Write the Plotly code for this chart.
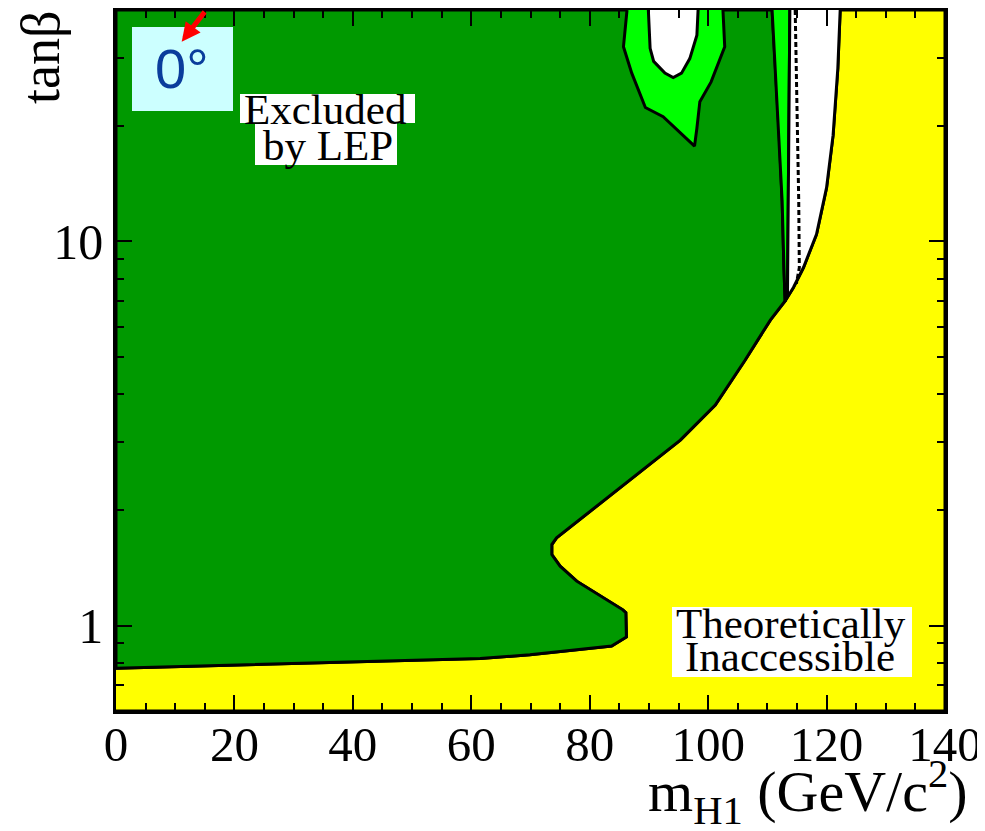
import math
import plotly.graph_objects as go

# ---------------- data ----------------
X_MIN, X_MAX = 0, 140
Y_MIN, Y_MAX = 0.6, 40

# theoretical boundary (green / yellow), low mass -> junction
bound_x = [0.0, 61.5, 69.9, 83.7, 86.2, 86.1, 85.6, 77.8, 75.0, 73.6, 73.6, 74.4, 95.3, 101.2, 106.2, 110.5, 113.0]
bound_y = [0.775, 0.822, 0.840, 0.886, 0.935, 1.082, 1.10, 1.306, 1.429, 1.532, 1.626, 1.693, 3.04, 3.75, 4.90, 6.24, 7.0]

# theoretical boundary above the junction (white / yellow)
upper_x = [113.0, 114.4, 116.1, 118.3, 120.0, 121.1, 121.9, 122.3]
upper_y = [7.0, 7.59, 8.55, 10.44, 13.8, 18.9, 28.2, 40.0]

# edge of the dark-green (excluded) region near 111-113 GeV, top -> bottom
dark_edge_x = [110.8, 111.3, 112.0, 112.5, 112.8, 113.0]
dark_edge_y = [40.0, 28.2, 18.9, 12.7, 8.55, 7.0]

# edge of the light-green strip, top -> bottom
light_edge_x = [113.8, 113.7, 113.5, 113.4, 113.0]
light_edge_y = [40.0, 28.2, 12.7, 7.3, 7.0]

# dashed (expected) line
dash_x = [114.7, 115.0, 115.3, 115.4, 114.9]
dash_y = [40.0, 23.1, 12.7, 8.55, 7.76]

# island near 90-100 GeV: light green outer contour and white inner contour
island_out_x = [86.3, 85.7, 87.1, 88.8, 89.4, 92.4, 94.7, 97.7, 98.1, 98.6, 100.5, 102.8, 102.5]
island_out_y = [40.0, 32.1, 27.4, 23.6, 22.3, 21.1, 19.5, 17.7, 19.7, 23.1, 26.0, 32.1, 40.0]
island_in_x = [89.9, 90.2, 90.8, 92.7, 94.1, 95.5, 96.9, 98.1, 98.3]
island_in_y = [40.0, 31.8, 29.4, 27.4, 26.7, 27.4, 29.9, 34.4, 40.0]

x_major = [0, 20, 40, 60, 80, 100, 120, 140]
y_major = [1, 10]
y_major_text = ["1", "10"]
y_minor = [0.6, 0.7, 0.8, 0.9, 2, 3, 4, 5, 6, 7, 8, 9, 20, 30, 40]

# ---------------- colours ----------------
DARK_GREEN = "#009900"
LIGHT_GREEN = "#00ff00"
YELLOW = "#ffff00"
LINE_W = 3

fig = go.Figure()

# yellow: theoretically inaccessible
yel_x = bound_x + upper_x[1:] + [X_MAX, X_MAX, X_MIN]
yel_y = bound_y + upper_y[1:] + [Y_MAX, Y_MIN, Y_MIN]
fig.add_trace(go.Scatter(x=yel_x, y=yel_y, fill="toself", fillcolor=YELLOW, mode="lines",
                         line=dict(color="black", width=LINE_W), hoverinfo="skip"))

# dark green: excluded
grn_x = [X_MIN] + bound_x + dark_edge_x[::-1] + [X_MIN]
grn_y = [Y_MAX] + bound_y + dark_edge_y[::-1] + [Y_MAX]
fig.add_trace(go.Scatter(x=grn_x, y=grn_y, fill="toself", fillcolor=DARK_GREEN, mode="lines",
                         line=dict(color="black", width=LINE_W), hoverinfo="skip"))

# light green strip
lg_x = dark_edge_x + light_edge_x[::-1]
lg_y = dark_edge_y + light_edge_y[::-1]
fig.add_trace(go.Scatter(x=lg_x, y=lg_y, fill="toself", fillcolor=LIGHT_GREEN, mode="lines",
                         line=dict(color="black", width=LINE_W), hoverinfo="skip"))

# white allowed region
wh_x = light_edge_x + upper_x
wh_y = light_edge_y + upper_y
fig.add_trace(go.Scatter(x=wh_x, y=wh_y, fill="toself", fillcolor="white", mode="lines",
                         line=dict(color="black", width=LINE_W), hoverinfo="skip"))

# dashed line
fig.add_trace(go.Scatter(x=dash_x, y=dash_y, mode="lines",
                         line=dict(color="black", width=LINE_W, dash="5px,3px"), hoverinfo="skip"))

# island
fig.add_trace(go.Scatter(x=island_out_x, y=island_out_y, fill="toself", fillcolor=LIGHT_GREEN, mode="lines",
                         line=dict(color="black", width=LINE_W), hoverinfo="skip"))
fig.add_trace(go.Scatter(x=island_in_x, y=island_in_y, fill="toself", fillcolor="white", mode="lines",
                         line=dict(color="black", width=LINE_W), hoverinfo="skip"))

# ---------------- layout ----------------
SERIF = "Liberation Serif"
OFF = 8  # page body margin
W, H = 985 - OFF, 831 - OFF
L, T = 116 - OFF, 10 - OFF
PW, PH = 829, 701
R, B = W - L - PW, H - T - PH


# helpers: page pixel -> paper fraction
def px(x):
    return (x - OFF - L) / PW


def py(y):
    return (T + PH - (y - OFF)) / PH


shapes = [
    # light-blue label box
    dict(type="rect", xref="paper", yref="paper", x0=px(132), x1=px(233), y0=py(111), y1=py(27),
         fillcolor="#ccffff", line=dict(width=0), layer="above"),
    # white boxes behind text
    dict(type="rect", xref="paper", yref="paper", x0=px(240), x1=px(415), y0=py(123), y1=py(94),
         fillcolor="white", line=dict(width=0), layer="above"),
    dict(type="rect", xref="paper", yref="paper", x0=px(255), x1=px(397), y0=py(165), y1=py(123),
         fillcolor="white", line=dict(width=0), layer="above"),
    dict(type="rect", xref="paper", yref="paper", x0=px(672), x1=px(912), y0=py(677), y1=py(607),
         fillcolor="white", line=dict(width=0), layer="above"),
]

annotations = [
    dict(text="0°", xref="paper", yref="paper", x=px(182), y=py(68), showarrow=False,
         font=dict(family="Liberation Sans", size=56, color="#0a3d9c"), xanchor="center", yanchor="middle"),
    dict(text=" ", xref="paper", yref="paper", x=px(181.7), y=py(41.7), showarrow=True,
         ax=26, ay=-54, arrowhead=2, arrowsize=0.75, arrowwidth=5, arrowcolor="#ff0000"),
    dict(text="Excluded", xref="paper", yref="paper", x=px(325), y=py(110), showarrow=False,
         font=dict(family=SERIF, size=43, color="black"), xanchor="center", yanchor="middle"),
    dict(text="by LEP", xref="paper", yref="paper", x=px(328), y=py(145), showarrow=False,
         font=dict(family=SERIF, size=43, color="black"), xanchor="center", yanchor="middle"),
    dict(text="Theoretically", xref="paper", yref="paper", x=px(791), y=py(623), showarrow=False,
         font=dict(family=SERIF, size=43, color="black"), xanchor="center", yanchor="middle"),
    dict(text="Inaccessible", xref="paper", yref="paper", x=px(790), y=py(656), showarrow=False,
         font=dict(family=SERIF, size=43, color="black"), xanchor="center", yanchor="middle"),
    # axis titles
    dict(text="m<sub>H1</sub> (GeV/c<sup>2</sup>)", xref="paper", yref="paper", x=px(970), y=py(792),
         showarrow=False, font=dict(family=SERIF, size=58, color="black"), xanchor="right", yanchor="middle"),
    dict(text="tanβ", xref="paper", yref="paper", x=px(41), y=py(58), textangle=-90, showarrow=False,
         font=dict(family=SERIF, size=54, color="black"), xanchor="center", yanchor="middle"),
]

fig.update_layout(
    width=W, height=H,
    margin=dict(l=L, r=R, t=T, b=B, pad=0, autoexpand=False),
    paper_bgcolor="white", plot_bgcolor="white",
    showlegend=False,
    shapes=shapes, annotations=annotations,
)

fig.update_xaxes(
    range=[X_MIN, X_MAX], tickvals=x_major, ticks="inside", ticklen=16, tickwidth=2, tickcolor="black",
    showline=True, linecolor="black", linewidth=2.5, mirror="ticks", showgrid=False, zeroline=False,
    automargin=False, ticklabelstandoff=-12,
    tickfont=dict(family=SERIF, size=49, color="black"),
    minor=dict(dtick=5, ticks="inside", ticklen=8, tickwidth=2, tickcolor="black", showgrid=False),
)
fig.update_yaxes(
    type="log", range=[math.log10(Y_MIN), math.log10(Y_MAX)],
    tickvals=y_major, ticktext=y_major_text, ticks="inside", ticklen=16, tickwidth=2, tickcolor="black",
    showline=True, linecolor="black", linewidth=2.5, mirror="ticks", showgrid=False, zeroline=False,
    automargin=False,
    tickfont=dict(family=SERIF, size=50, color="black"),
    minor=dict(tickvals=y_minor, ticks="inside", ticklen=8, tickwidth=2, tickcolor="black", showgrid=False),
)

fig.write_html("out.html")
